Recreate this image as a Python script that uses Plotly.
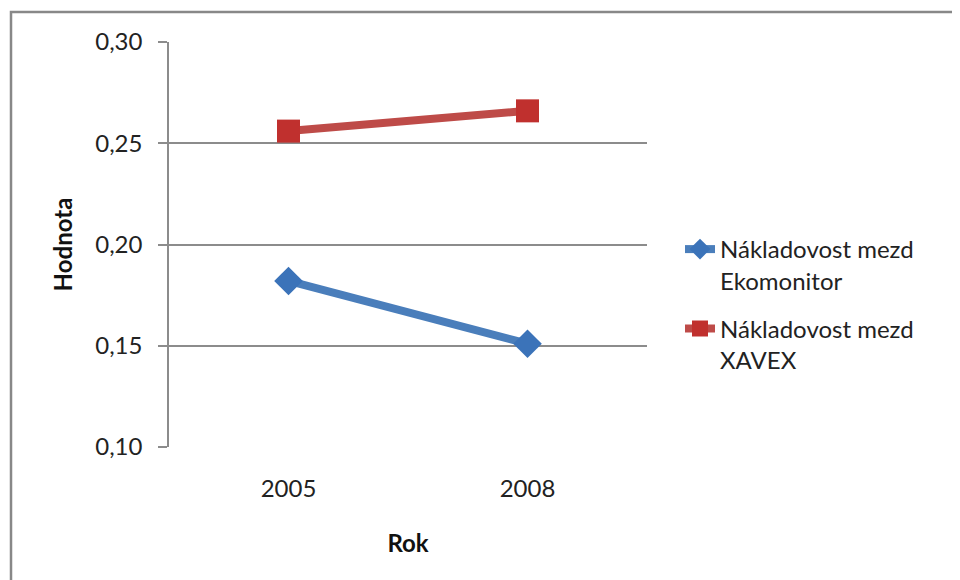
import plotly.graph_objects as go

years = ["2005", "2008"]
ekomonitor = [0.182, 0.151]
xavex = [0.256, 0.266]
series_names = ["Nákladovost mezd<br>Ekomonitor", "Nákladovost mezd<br>XAVEX"]
y_ticks = [0.10, 0.15, 0.20, 0.25, 0.30]

FONT = "Lato"
FS = 24
fig = go.Figure()
fig.add_trace(go.Scatter(
    x=years, y=ekomonitor, name=series_names[0], mode="lines+markers",
    legendgroup="a",
    line=dict(color="#4a7ebb", width=8),
    marker=dict(symbol="diamond", size=22, color="#3b73b9"),
))
fig.add_trace(go.Scatter(
    x=years, y=xavex, name=series_names[1], mode="lines+markers",
    legendgroup="b",
    line=dict(color="#be4b48", width=8),
    marker=dict(symbol="square", size=23, color="#c0302e"),
))

# page body has an 8px margin, so figure coords = reference coords - 8
OFF = 8
L, R, T, B = 169 - OFF, 647 - OFF, 42 - OFF, 447 - OFF
W, H = 960 - OFF, 580 - OFF
fig.update_layout(
    width=W, height=H,
    margin=dict(l=L, r=W - R, t=T, b=H - B),
    paper_bgcolor="white", plot_bgcolor="white",
    separators=", ",
    font=dict(family=FONT, size=FS, color="#222222"),
    showlegend=True,
    legend=dict(
        x=(680 - OFF - L) / (R - L), xanchor="left",
        y=1 - (227 - OFF - T) / (B - T), yanchor="top",
        valign="top", tracegroupgap=14, itemwidth=30,
        font=dict(family=FONT, size=FS, color="#222222"),
        bgcolor="rgba(0,0,0,0)",
    ),
    xaxis=dict(
        type="category", range=[-0.5, 1.5],
        showline=False, showgrid=False, ticks="",
        ticklabelstandoff=25,
        title=dict(text="<b>Rok</b>", standoff=34, font=dict(family=FONT, size=FS, color="#111111")),
    ),
    yaxis=dict(
        range=[0.10, 0.30], tickvals=y_ticks, tickformat=".2f",
        showline=True, linecolor="#8c8c8c", linewidth=1.5,
        showgrid=True, gridcolor="#8c8c8c", gridwidth=1.5,
        ticks="outside", ticklen=9, tickcolor="#8c8c8c", tickwidth=1.5,
        ticklabelstandoff=11,
        zeroline=False,
        title=dict(text="<b>Hodnota</b>", standoff=16, font=dict(family=FONT, size=FS, color="#111111")),
    ),
)
# chart outer border (partially visible in the reference)
fig.add_shape(
    type="rect", xref="paper", yref="paper", layer="below",
    x0=(11 - OFF - L) / (R - L), x1=(975 - OFF - L) / (R - L),
    y0=1 + (T - (595 - OFF)) / (B - T), y1=1 + (T - (12 - OFF)) / (B - T),
    line=dict(color="#888888", width=2.5), fillcolor="rgba(0,0,0,0)",
)
fig.write_html("out.html")
